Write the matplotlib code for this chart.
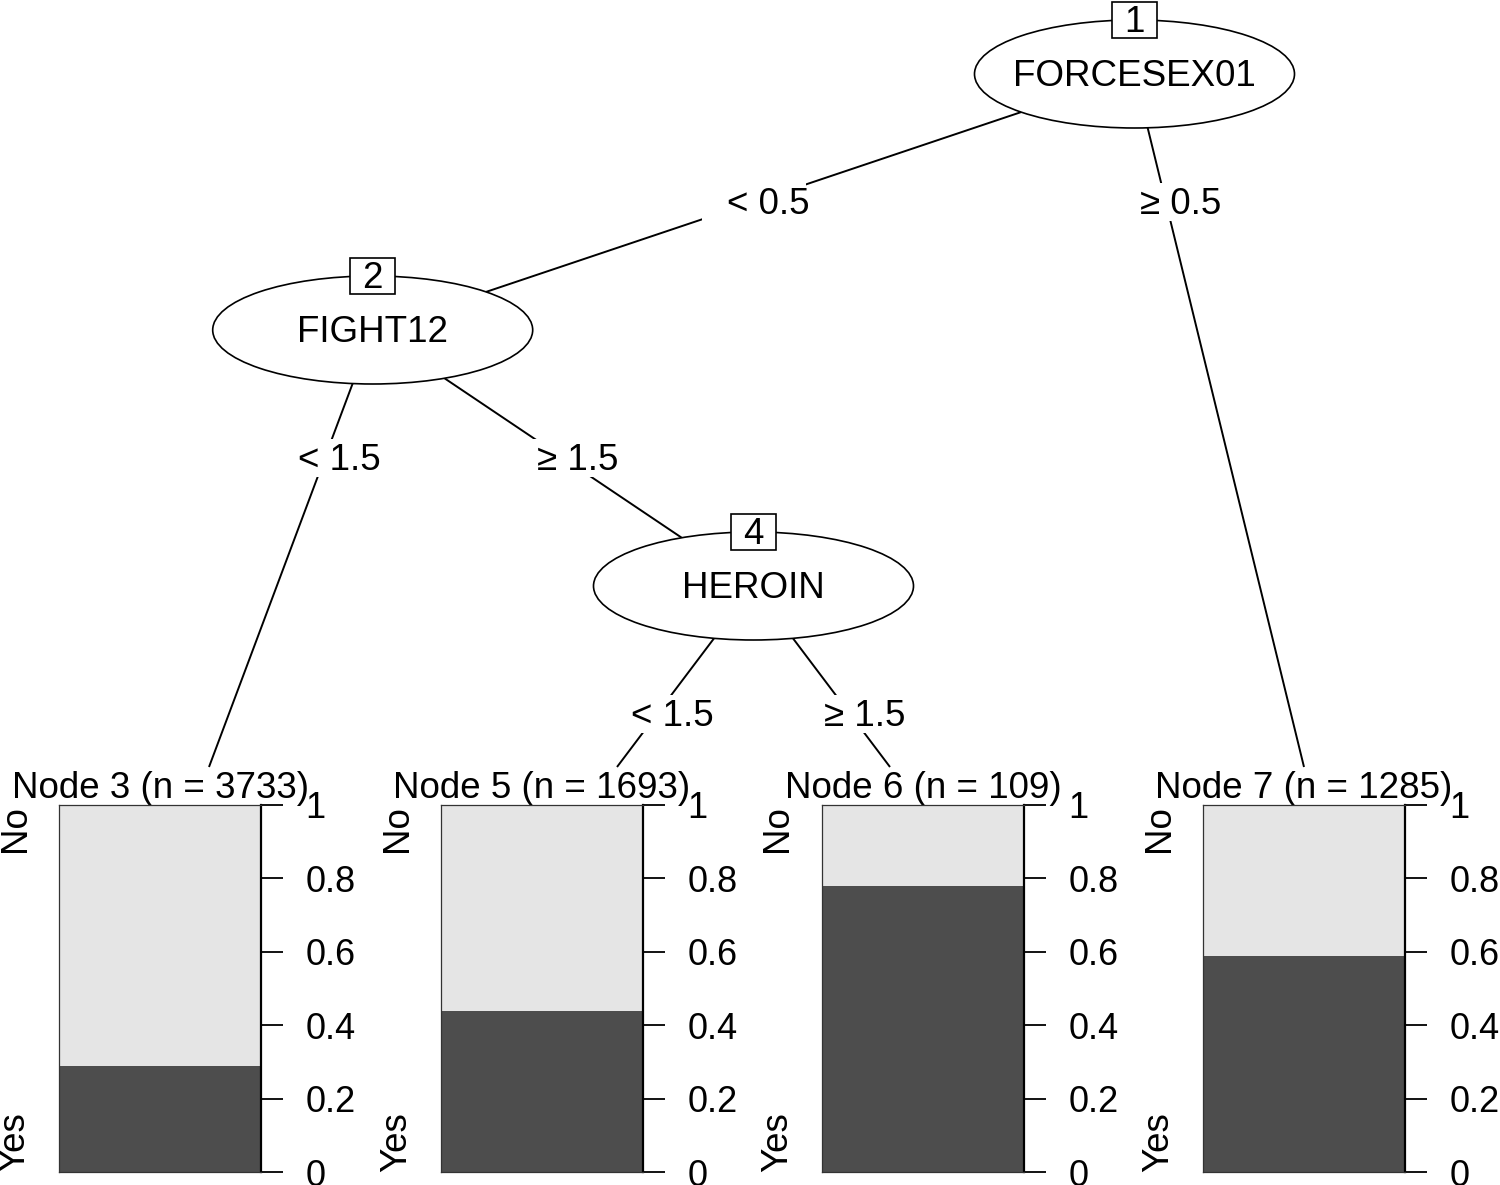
import matplotlib
matplotlib.use("Agg")
import matplotlib.pyplot as plt
from matplotlib.patches import Ellipse, Rectangle

plt.rcParams['font.family'] = ['Liberation Sans', 'DejaVu Sans']

# ---- data ----
inner_ids = [1, 2, 4]
inner_vars = ['FORCESEX01', 'FIGHT12', 'HEROIN']
terminal_ids = [3, 5, 6, 7]
terminal_n = [3733, 1693, 109, 1285]
yes_prop = [0.289, 0.439, 0.779, 0.589]
classes = ['No', 'Yes']
tick_values = [0, 0.2, 0.4, 0.6, 0.8, 1]
tick_labels = ['0', '0.2', '0.4', '0.6', '0.8', '1']
# edges: (parent, child, label)
edges = [(1, 2, '< 0.5'), (1, 7, '\u2265 0.5'),
         (2, 3, '< 1.5'), (2, 4, '\u2265 1.5'),
         (4, 5, '< 1.5'), (4, 6, '\u2265 1.5')]

# ---- layout (pixels) ----
W, H = 1500, 1185
inner_pos = {1: (1134.5, 74), 2: (372.7, 330), 4: (753.5, 586)}
term_line_end = {3: (209, 767), 5: (617, 767), 6: (890, 767), 7: (1304, 767)}
bar_left = {3: 59, 5: 441, 6: 822, 7: 1203}
bar_w = 202
bar_top, bar_bot = 805, 1172
rx, ry = 160, 54
FS = 26.5
TY = 3  # vertical text nudge
dark, light = '#4D4D4D', '#E5E5E5'

fig = plt.figure(figsize=(W / 100, H / 100), dpi=100)
ax = fig.add_axes([0, 0, 1, 1])
ax.set_xlim(0, W)
ax.set_ylim(H, 0)
ax.axis('off')

def endpoint(nid):
    return inner_pos[nid] if nid in inner_pos else term_line_end[nid]

for p, c, lab in edges:
    x0, y0 = inner_pos[p]
    x1, y1 = endpoint(c)
    ax.plot([x0, x1], [y0, y1], color='black', lw=1.4, zorder=1,
            solid_capstyle='butt')
    ly = y0 + 128
    lx = x0 + (x1 - x0) * (ly - y0) / (y1 - y0)
    ax.add_patch(Rectangle((lx - 52, ly - 19), 104, 38, facecolor='white',
                           edgecolor='none', zorder=2))
    ax.text(lx + 15, ly + TY, lab, fontsize=FS, ha='center', va='center', zorder=5)

for nid, var in zip(inner_ids, inner_vars):
    x, y = inner_pos[nid]
    ax.add_patch(Ellipse((x, y), 2 * rx, 2 * ry, facecolor='white',
                         edgecolor='black', lw=1.2, zorder=3))
    ax.text(x, y + TY, var, fontsize=FS, ha='center', va='center', zorder=5)
    ax.add_patch(Rectangle((x - 22.5, y - ry - 17 - 1), 45, 36, facecolor='white',
                           edgecolor='black', lw=1.2, zorder=4))
    ax.text(x, y - ry + 2, str(nid), fontsize=FS, ha='center', va='center', zorder=5)

for tid, n, yp in zip(terminal_ids, terminal_n, yes_prop):
    x0 = bar_left[tid]
    bax = fig.add_axes([x0 / W, (H - bar_bot) / H, bar_w / W, (bar_bot - bar_top) / H])
    bax.bar([0], [yp], width=1, color=dark, edgecolor='none')
    bax.bar([0], [1 - yp], bottom=[yp], width=1, color=light, edgecolor='none')
    bax.set_xlim(-0.5, 0.5)
    bax.set_ylim(0, 1)
    bax.set_xticks([])
    bax.yaxis.tick_right()
    bax.set_yticks(tick_values)
    bax.set_yticklabels(tick_labels)
    bax.tick_params(axis='y', length=16, width=1.3, pad=16, labelsize=26)
    for s in ['left', 'top', 'bottom']:
        bax.spines[s].set_linewidth(0.9)
        bax.spines[s].set_color('#333333')
    bax.spines['right'].set_linewidth(1.6)
    bax.patch.set_alpha(0)
    # class labels
    ax.text(x0 - 44, bar_top, classes[0], rotation=90, fontsize=FS,
            ha='center', va='top')
    ax.text(x0 - 44, bar_bot, classes[1], rotation=90, fontsize=FS,
            ha='center', va='bottom')
    ax.text(x0 + bar_w / 2, 788 + 1, f'Node {tid} (n = {n})', fontsize=FS,
            ha='center', va='center', zorder=5)

fig.savefig('out.png', dpi=100)
